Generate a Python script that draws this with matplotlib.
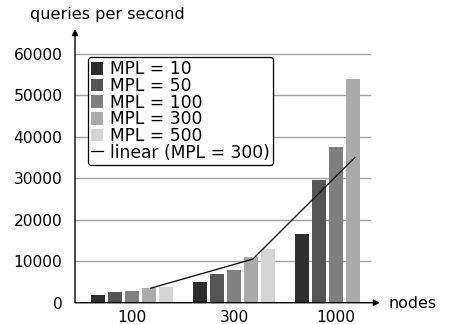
import numpy as np
import matplotlib
matplotlib.use('Agg')
import matplotlib.pyplot as plt

nodes = ['100', '300', '1000']
mpl_labels = ['MPL = 10', 'MPL = 50', 'MPL = 100', 'MPL = 300', 'MPL = 500']
mpl_10 = [1900, 5050, 16600]
mpl_50 = [2650, 7000, 29650]
mpl_100 = [2900, 7950, 37500]
mpl_300 = [3600, 11000, 53900]
mpl_500 = [3850, 12950, None]
linear_300 = [3500, 10500, 35000]
colors = ['#2e2e2e', '#555555', '#808080', '#aaaaaa', '#d5d5d5']

plt.rcParams['font.family'] = 'DejaVu Sans'

fig = plt.figure(figsize=(4.5, 3.24), dpi=100)
ax = fig.add_axes([75 / 450, 21.3 / 324, 305 / 450, 273.7 / 324])

x = np.arange(len(nodes))
step = 0.1667
width = 0.14
series = [mpl_10, mpl_50, mpl_100, mpl_300, mpl_500]
handles = []
for i, vals in enumerate(series):
    xs = [x[j] + (i - 2) * step for j in range(len(vals)) if vals[j] is not None]
    ys = [v for v in vals if v is not None]
    handles.append(ax.bar(xs, ys, width, color=colors[i], label=mpl_labels[i], zorder=2))

line, = ax.plot(x + step * 1.1, linear_300, color='black', lw=0.9, zorder=3,
                label='linear (MPL = 300)')
handles.append(line)

ax.set_xlim(-0.559, 2.431)
ax.set_ylim(0, 66000)
for v in range(10000, 60001, 10000):
    ax.axhline(v, xmax=0.967, color='#a0a0a0', lw=1.0, zorder=1)

ax.set_yticks(range(0, 60001, 10000))
ax.set_xticks(x)
ax.set_xticklabels(nodes)
ax.tick_params(length=0, labelsize=11.2)
ax.tick_params(axis='y', pad=9)
ax.tick_params(axis='x', pad=5)
for s in ax.spines.values():
    s.set_visible(False)

ax.annotate('', xy=(0, 1), xycoords='axes fraction', xytext=(0, 0),
            arrowprops=dict(arrowstyle='-|>', color='black', lw=1.0, mutation_scale=9, shrinkA=0, shrinkB=0))
ax.annotate('', xy=(1, 0), xycoords='axes fraction', xytext=(0, 0),
            arrowprops=dict(arrowstyle='-|>', color='black', lw=1.0, mutation_scale=9, shrinkA=0, shrinkB=0))

fig.text(30 / 450, 1 - 15 / 324, 'queries per second', fontsize=11.6, va='center', ha='left')
fig.text(388 / 450, 1 - 304 / 324, 'nodes', fontsize=11.4, va='center', ha='left')

leg = ax.legend(handles=handles, loc='upper left', bbox_to_anchor=(0.0426, 0.898), borderaxespad=0,
                fontsize=12.3, labelspacing=-0.08, handlelength=0.7, handleheight=0.75,
                handletextpad=0.4, borderpad=0.2, fancybox=True, framealpha=1)
leg.get_frame().set_edgecolor('black')
leg.get_frame().set_linewidth(0.9)

fig.savefig('out.png', dpi=100)
